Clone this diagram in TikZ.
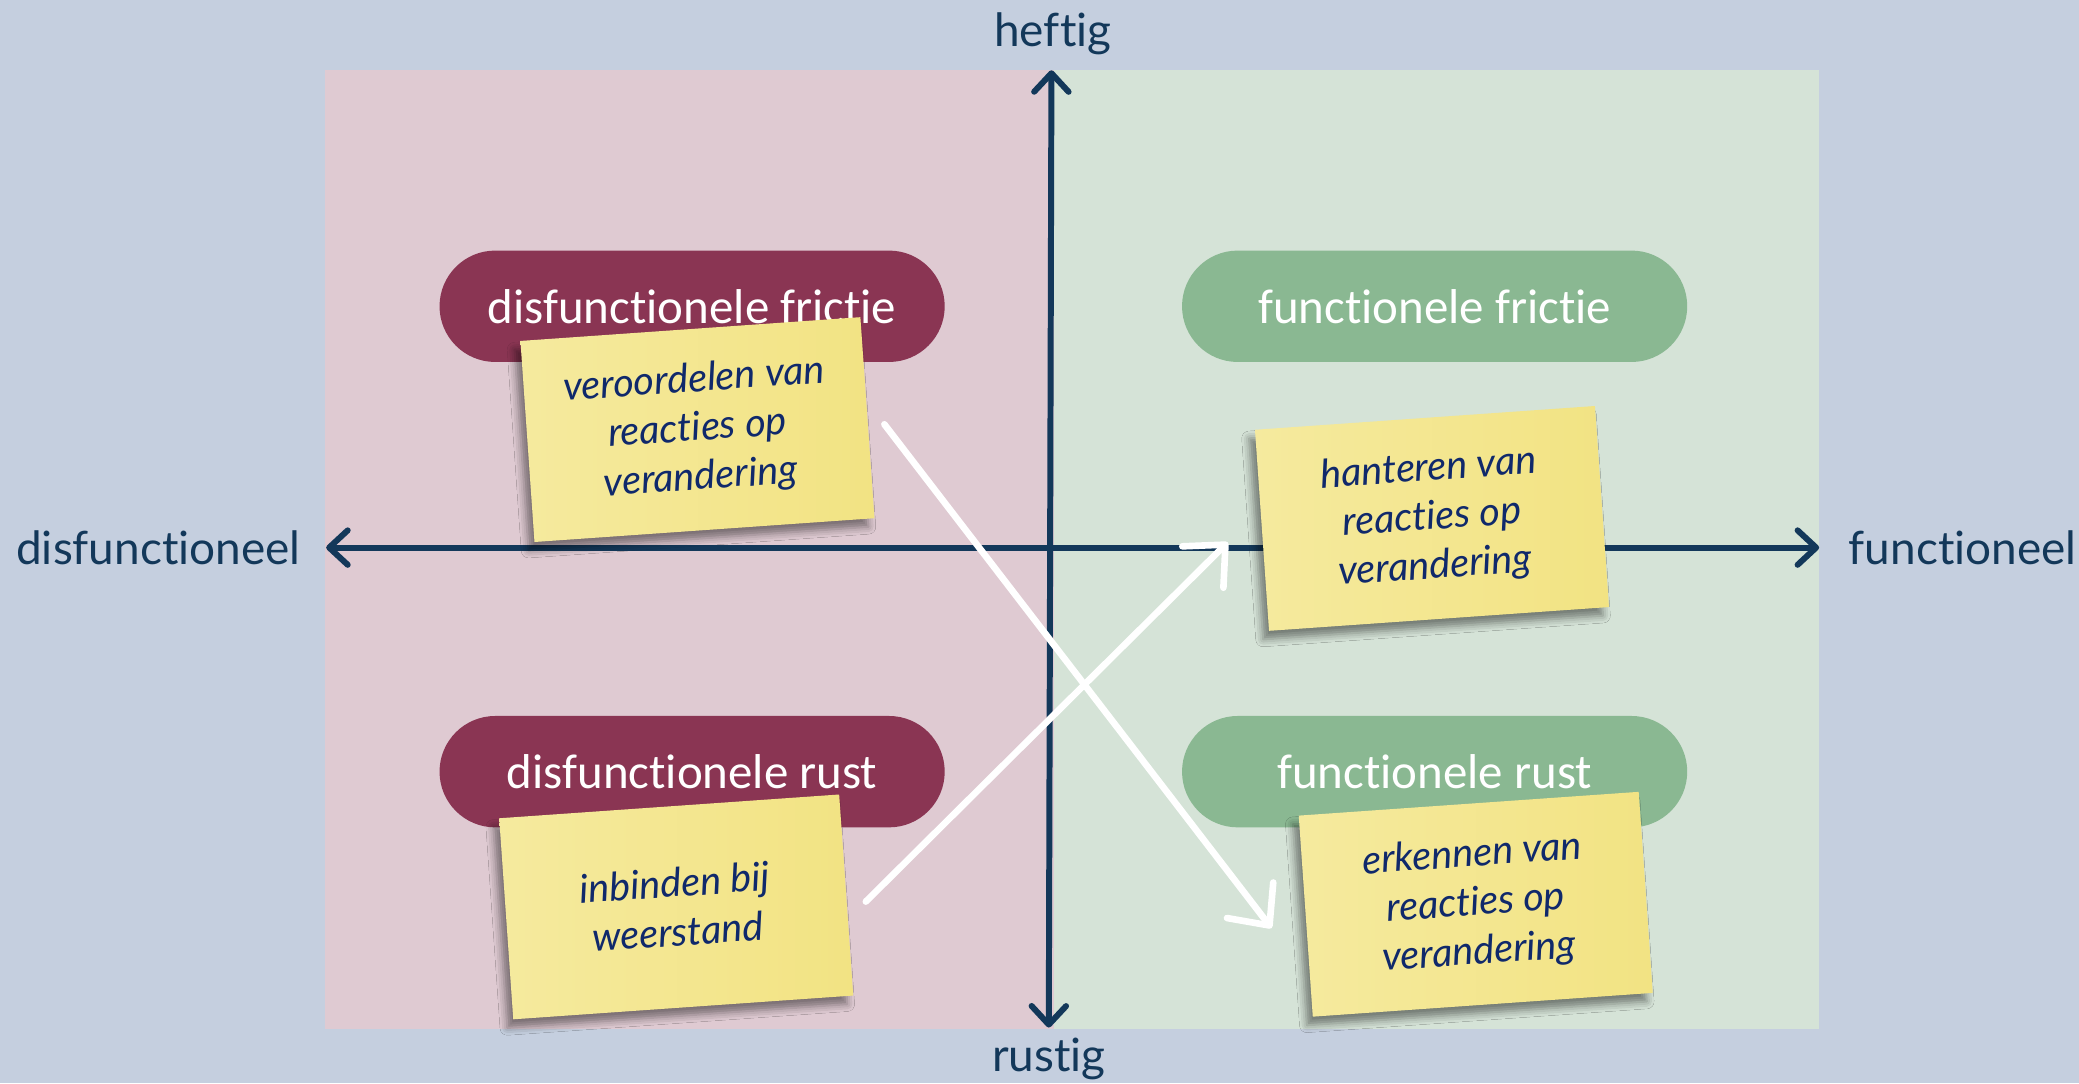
\documentclass[tikz,border=0pt]{standalone}
\usepackage{fontspec}
\setmainfont{Lato}[Ligatures=NoCommon]
\newfontfamily\pillfont{Carlito}[Ligatures=NoCommon]
\newfontfamily\handfont{Lato}[Ligatures=NoCommon]
\usepackage{tikz}
\usetikzlibrary{
  arrows.meta,
  shadows,
  shadows.blur,
  positioning
}
\definecolor{bgblue}{HTML}{C5CFDF}
\definecolor{redpanel}{HTML}{DFCAD2}
\definecolor{greenpanel}{HTML}{D5E3D7}
\definecolor{axisblue}{HTML}{13385A}
\definecolor{wine}{HTML}{8A3553}
\definecolor{sage}{HTML}{8AB892}
\definecolor{postit}{HTML}{F2E383}
\definecolor{postitlight}{HTML}{F5EA9E}
\definecolor{inkblue}{HTML}{10296B}

\begin{document}
\begin{tikzpicture}[
      x=0.2mm,y=-0.2mm,
      axis/.style={
         draw=axisblue,
         line width=0.9mm,
         {Straight Barb[length=2.8mm,width=5.2mm,round]}-{Straight Barb[length=2.8mm,width=5.2mm,round]}
      },
      axis label/.style={
         text=axisblue,
         inner sep=0pt,
         font=\fontsize{19.7}{24}\selectfont
      },
      pill/.style={
         rectangle,
         rounded corners=8.4mm,
         minimum width=76.2mm,
         minimum height=16.8mm,
         text=white,
         font=\pillfont\fontsize{21}{25}\selectfont
      },
      bad/.style={pill,fill=wine},
      good/.style={pill,fill=sage},
      note/.style={
         rectangle,
         minimum width=51.4mm,
         minimum height=30.4mm,
         rotate=4,
         align=center,
         left color=postitlight,
         right color=postit,
         text=inkblue,
         font=\handfont\itshape\fontsize{17}{21}\selectfont,
         blur shadow={shadow xshift=-0.9mm,shadow yshift=-1.3mm,shadow blur radius=1.1mm,shadow opacity=45}
      },
      move/.style={
         draw=white,
         line width=1mm,
         line cap=round,
         -{Straight Barb[length=4.8mm,width=8.8mm,round]}
      }
    ]
    % background and the two halves
    \path[use as bounding box,fill=bgblue] (0,0) rectangle (1568,817);
    \fill[redpanel] (245,53) rectangle (795,776);
    \fill[greenpanel] (795,53) rectangle (1372,776);

    % axes
    \coordinate (top) at (793,53);
    \coordinate (bottom) at (791,775);
    \coordinate (left) at (246,413);
    \coordinate (right) at (1372,413);
    \draw[axis] (bottom) -- (top);
    \draw[axis] (left) -- (right);
    \node (heftig) [axis label, anchor=base] at (794,35) {heftig};
    \node (rustig) [axis label, anchor=base] at (791,808) {rustig};
    \node (disf) [axis label, anchor=base east] at (227,426) {disfunctioneel};
    \node (func) [axis label, anchor=base west] at (1394,426) {functioneel};

    % quadrants
    \node (dfrictie) [bad] at (522,231) {disfunctionele frictie};
    \node (frictie) [good] at (1082,231) {functionele frictie};
    \node (drust) [bad] at (522,582) {disfunctionele rust};
    \node (rust) [good] at (1082,582) {functionele rust};

    % sticky notes
    \node (oordeel) [note] at (526,324) {veroordelen van\\reacties op\\verandering};
    \node (hanteren) [note] at (1080,391) {hanteren van\\reacties op\\verandering};
    \node (inbinden) [note] at (510,684) {inbinden bij\\weerstand};
    \node (erkennen) [note] at (1113,682) {erkennen van\\reacties op\\verandering};

    % shifts
    \coordinate (a1) at (667,320);
    \coordinate (a2) at (959,700);
    \coordinate (b1) at (653,680);
    \coordinate (b2) at (926,409);
    \draw[move] (a1) -- (a2);
    \draw[move] (b1) -- (b2);
\end{tikzpicture}
\end{document}
